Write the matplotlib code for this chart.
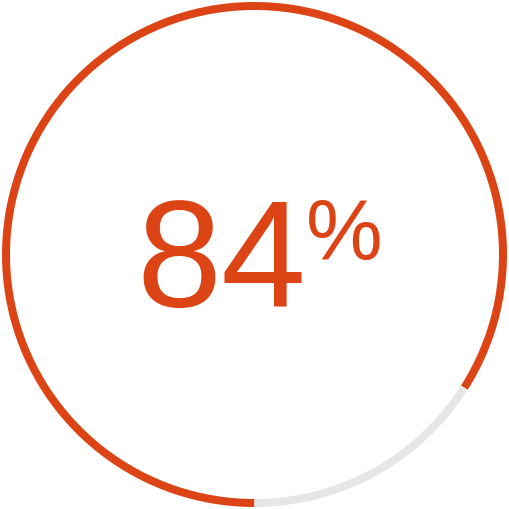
import matplotlib
matplotlib.use("Agg")
import matplotlib.pyplot as plt

# Data
labels = ["Yes", "Remaining"]
values = [84, 16]
colors = ["#DD4415", "#E6E6E6"]
value_text = "84"
unit_text = "%"

W = 509
fig = plt.figure(figsize=(W / 100, W / 100), dpi=100)
ax = fig.add_axes([0, 0, 1, 1])
half = W / 2
ax.set_xlim(-half, half)
ax.set_ylim(-half, half)
ax.set_aspect("equal")
ax.axis("off")

ax.pie(values, colors=colors, startangle=270, counterclock=False,
       radius=252.5, center=(0, 0),
       wedgeprops=dict(width=8, linewidth=0))
ax.set_xlim(-half, half)
ax.set_ylim(-half, half)

ax.text(51.5, -52.5, value_text, color=colors[0], fontsize=110,
        family="Liberation Sans", ha="right", va="baseline")
ax.text(51.5, -5.5, unit_text, color=colors[0], fontsize=62,
        family="Liberation Sans", ha="left", va="baseline")

fig.savefig("out.png", dpi=100)
